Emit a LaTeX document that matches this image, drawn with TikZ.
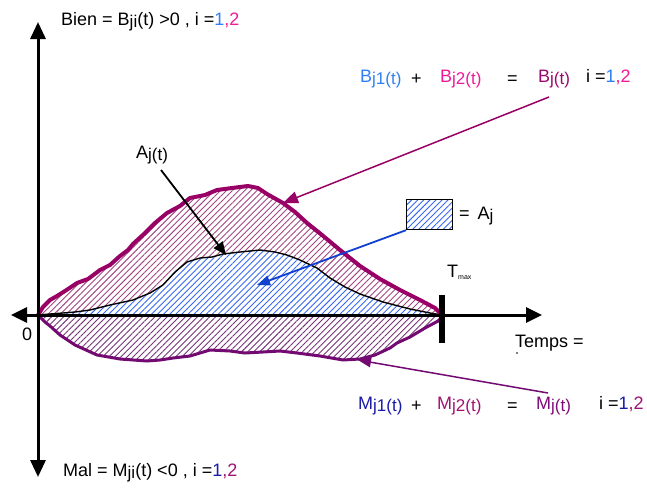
\documentclass[tikz,border=0pt]{standalone}
\usepackage{fontspec}
\setmainfont{Liberation Sans}
\usetikzlibrary{arrows.meta,patterns.meta}
\definecolor{cblue}{HTML}{2F7FF5}
\definecolor{cpink}{HTML}{EE1A96}
\definecolor{cpur}{HTML}{9A0A6A}
\definecolor{cdblue}{HTML}{1A1AA8}
\definecolor{cmpur}{HTML}{A01272}
\definecolor{cmj}{HTML}{800A7A}
\definecolor{upline}{HTML}{990066}
\definecolor{lowline}{HTML}{720A72}
\definecolor{uphatch}{HTML}{A04680}
\definecolor{lowhatch}{HTML}{743478}
\definecolor{bluehatch}{HTML}{3868F2}
\definecolor{barrow}{HTML}{1040D0}
\newcommand\sbx[1]{\raisebox{-2.5pt}{\fontsize{17}{17}\selectfont #1}}
\begin{document}
\begin{tikzpicture}[x=1pt,y=-1pt,
  txt/.style={inner sep=0pt,anchor=base west,font=\fontsize{18}{21}\selectfont},
  axis/.style={line width=3pt,black},
  uphatchst/.style={pattern={Lines[angle=45,distance=4.3pt,line width=0.9pt]},pattern color=uphatch},
  lowhatchst/.style={pattern={Lines[angle=45,distance=4.3pt,line width=0.9pt]},pattern color=lowhatch},
  bluehatchst/.style={pattern={Lines[angle=45,distance=4.3pt,line width=0.9pt]},pattern color=bluehatch},
  upcurve/.style={line width=4pt,upline,line join=round,line cap=round},
  lowcurve/.style={line width=3pt,lowline,line join=round,line cap=round},
  ajline/.style={line width=1.4pt,black,line join=round}
]
\useasboundingbox (0,0) rectangle (647,490);
% upper hatched region
\path[uphatchst] (38,315) -- (43,307) -- (50,300) -- (57,296) -- (65,291) -- (77,283) -- (88,279) -- (100,270) -- (110,265) -- (120,256) -- (128,250) -- (133,244) -- (145,233) -- (155,223) -- (167,213) -- (180,206) -- (190,198) -- (205,195) -- (217,190) -- (232,188) -- (248,186) -- (258,188) -- (267,194) -- (283,203) -- (295,212) -- (307,223) -- (322,235) -- (340,250) -- (360,266) -- (380,279) -- (400,290) -- (420,300) -- (435,308) -- (442,315) -- cycle;
% blue region
\path[fill=white] (38,315) -- (50,314) -- (63,313) -- (75,312) -- (90,310) -- (110,305) -- (133,300) -- (150,293) -- (163,285) -- (175,272) -- (187,262) -- (200,258) -- (212,257) -- (223,254) -- (240,252) -- (260,250) -- (275,252) -- (287,255) -- (300,260) -- (317,268) -- (330,278) -- (345,287) -- (360,294) -- (383,302) -- (410,309) -- (430,313) -- (442,315) -- cycle;
\path[bluehatchst] (38,315) -- (50,314) -- (63,313) -- (75,312) -- (90,310) -- (110,305) -- (133,300) -- (150,293) -- (163,285) -- (175,272) -- (187,262) -- (200,258) -- (212,257) -- (223,254) -- (240,252) -- (260,250) -- (275,252) -- (287,255) -- (300,260) -- (317,268) -- (330,278) -- (345,287) -- (360,294) -- (383,302) -- (410,309) -- (430,313) -- (442,315) -- cycle;
% lower hatched region
\path[lowhatchst] (38,315) -- (45,322) -- (50,326) -- (60,335) -- (75,345) -- (97,355) -- (120,359) -- (147,361) -- (160,360) -- (173,358) -- (190,356) -- (210,350) -- (230,351) -- (245,353) -- (263,352) -- (280,351) -- (297,353) -- (320,356) -- (343,360) -- (360,359) -- (375,355) -- (390,348) -- (397,343) -- (410,337) -- (425,328) -- (440,320) -- (442,315) -- cycle;
% outlines
\draw[ajline] (38,315) -- (50,314) -- (63,313) -- (75,312) -- (90,310) -- (110,305) -- (133,300) -- (150,293) -- (163,285) -- (175,272) -- (187,262) -- (200,258) -- (212,257) -- (223,254) -- (240,252) -- (260,250) -- (275,252) -- (287,255) -- (300,260) -- (317,268) -- (330,278) -- (345,287) -- (360,294) -- (383,302) -- (410,309) -- (430,313) -- (442,315);
\draw[upcurve] (38,315) -- (43,307) -- (50,300) -- (57,296) -- (65,291) -- (77,283) -- (88,279) -- (100,270) -- (110,265) -- (120,256) -- (128,250) -- (133,244) -- (145,233) -- (155,223) -- (167,213) -- (180,206) -- (190,198) -- (205,195) -- (217,190) -- (232,188) -- (248,186) -- (258,188) -- (267,194) -- (283,203) -- (295,212) -- (307,223) -- (322,235) -- (340,250) -- (360,266) -- (380,279) -- (400,290) -- (420,300) -- (435,308) -- (442,315);
\draw[lowcurve] (38,315) -- (45,322) -- (50,326) -- (60,335) -- (75,345) -- (97,355) -- (120,359) -- (147,361) -- (160,360) -- (173,358) -- (190,356) -- (210,350) -- (230,351) -- (245,353) -- (263,352) -- (280,351) -- (297,353) -- (320,356) -- (343,360) -- (360,359) -- (375,355) -- (390,348) -- (397,343) -- (410,337) -- (425,328) -- (440,320) -- (442,315);
% axes
\coordinate (ytop) at (38,22);
\coordinate (ybot) at (38,477);
\coordinate (xleft) at (11,315);
\coordinate (xright) at (542,315);
\coordinate (origin) at (38,315);
\draw[axis,{Triangle[length=17pt,width=15pt]}-{Triangle[length=17pt,width=15pt]}] (ybot) -- (ytop);
\draw[axis,-{Triangle[length=16pt,width=15pt]}] (origin) -- (xright);
\draw[axis,-{Triangle[length=16pt,width=15pt]}] (origin) -- (xleft);
\coordinate (tmtop) at (442,295);
\coordinate (tmbot) at (442,343);
\draw[line width=5.5pt] (tmtop) -- (tmbot);
% legend box
\node[draw=black,line width=1.2pt,minimum width=46pt,minimum height=30pt,inner sep=0pt,anchor=north west,bluehatchst] (box) at (406,199) {};
\node[txt] (aj) at (459,219) {=\, A\sbx{j}};
% texts
\node[txt] (bien) at (61,25) {Bien = B\sbx{ji}(t) >0 , i =\textcolor{cblue}{1}\textcolor{cpink}{,2}};
\node[txt] (mal) at (63,476) {Mal = M\sbx{ji}(t) <0 , i =\textcolor{cdblue}{1}\textcolor{cmpur}{,2}};
\node[txt,text=cblue] (bj1) at (360,82) {B\sbx{j1(t)}};
\node[txt] (bplus) at (411,84) {+};
\node[txt,text=cpink] (bj2) at (440,82) {B\sbx{j2(t)}};
\node[txt] (beq) at (507,84) {=};
\node[txt,text=cpur] (bj) at (538,82) {B\sbx{j(t)}};
\node[txt] (bi) at (586,82) {i =\textcolor{cblue}{1}\textcolor{cpink}{,2}};
\node[txt,text=cdblue] (mj1) at (358,409) {M\sbx{j1(t)}};
\node[txt] (mplus) at (411,411) {+};
\node[txt,text=cmpur] (mj2) at (437,409) {M\sbx{j2(t)}};
\node[txt] (meq) at (507,411) {=};
\node[txt,text=cmj] (mj) at (536,409) {M\sbx{j(t)}};
\node[txt] (mi) at (599,409) {i =\textcolor{cdblue}{1}\textcolor{cmpur}{,2}};
\node[txt] (ajt) at (136,158) {A\sbx{j(t)}};
\node[txt] (tmax) at (447,277) {T\raisebox{-2pt}{\fontsize{7}{7}\selectfont max}};
\node[txt] (temps) at (515,347) {Temps =};
\node[txt] (zero) at (22,340) {0};
\fill (517,353) circle (0.8pt);
% arrows
\coordinate (bjtail) at (549,97);
\coordinate (bjtip) at (283,203);
\draw[line width=1.5pt,upline,-{Triangle[length=15pt,width=12pt]}] (bjtail) -- (bjtip);
\coordinate (mjtail) at (548,393);
\coordinate (mjtip) at (358,360);
\draw[line width=1.5pt,lowline,-{Triangle[length=13pt,width=10pt]}] (mjtail) -- (mjtip);
\coordinate (bltip) at (257,285);
\draw[line width=1.8pt,barrow,-{Triangle[length=13pt,width=10pt]}] (box.south west) -- (bltip);
\coordinate (ajtail) at (161,170);
\coordinate (ajtip) at (226,255);
\draw[line width=1.8pt,black,-{Triangle[length=13pt,width=11pt]}] (ajtail) -- (ajtip);
\end{tikzpicture}
\end{document}
